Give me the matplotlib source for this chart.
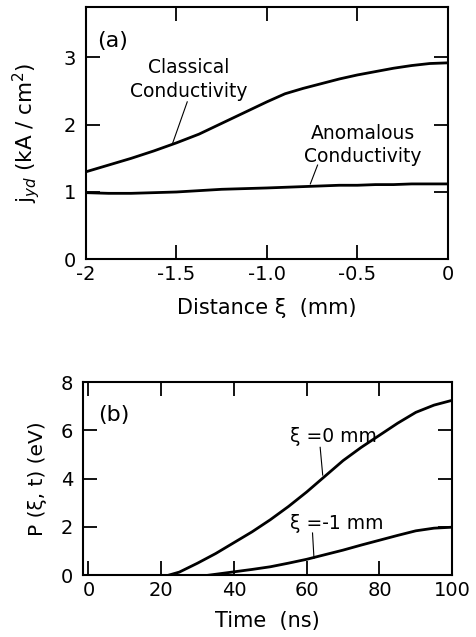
import numpy as np
import matplotlib
matplotlib.use("Agg")
import matplotlib.pyplot as plt

# (a) current density vs distance
xi = [-2.0, -1.875, -1.75, -1.625, -1.5, -1.375, -1.25, -1.125, -1.0,
      -0.9, -0.8, -0.7, -0.6, -0.5, -0.4, -0.3, -0.2, -0.1, 0.0]
j_classical = [1.30, 1.40, 1.50, 1.61, 1.73, 1.86, 2.02, 2.18, 2.34,
               2.46, 2.54, 2.61, 2.68, 2.74, 2.79, 2.84, 2.88, 2.91, 2.92]
j_anomalous = [0.99, 0.98, 0.98, 0.99, 1.00, 1.02, 1.04, 1.05, 1.06,
               1.07, 1.08, 1.09, 1.10, 1.10, 1.11, 1.11, 1.12, 1.12, 1.12]

# (b) pressure vs time
t0 = [22, 25, 30, 35, 40, 45, 50, 55, 60, 65, 70, 75, 80, 85, 90, 95, 100]
p0 = [0.0, 0.13, 0.5, 0.9, 1.35, 1.8, 2.3, 2.85, 3.45, 4.1, 4.75,
      5.3, 5.8, 6.3, 6.75, 7.05, 7.25]
t1 = [33, 40, 45, 50, 55, 60, 65, 70, 75, 80, 85, 90, 95, 100]
p1 = [0.0, 0.14, 0.24, 0.35, 0.50, 0.66, 0.85, 1.04, 1.25, 1.45, 1.65,
      1.84, 1.95, 1.99]

plt.rcParams['font.family'] = ['DejaVu Sans']

fig = plt.figure(figsize=(4.77, 6.37), dpi=100)
ax1 = fig.add_axes([0.180, 0.593, 0.759, 0.396])
ax2 = fig.add_axes([0.174, 0.097, 0.774, 0.303])

for ax in (ax1, ax2):
    for s in ax.spines.values():
        s.set_linewidth(1.5)
    ax.tick_params(direction='in', length=10, width=1.3, top=True, right=True,
                   labelsize=14, pad=4)
    ax.tick_params(axis='y', pad=7)

# panel (a)
ax1.plot(xi, j_classical, color='black', lw=2)
ax1.plot(xi, j_anomalous, color='black', lw=2)
ax1.set_xlim(-2, 0)
ax1.set_ylim(0, 3.75)
ax1.set_xticks([-2, -1.5, -1.0, -0.5, 0])
ax1.set_xticklabels(['-2', '-1.5', '-1.0', '-0.5', '0'])
ax1.set_yticks([0, 1, 2, 3])
ax1.set_xlabel('Distance ξ  (mm)', fontsize=15, labelpad=10)
ax1.set_ylabel('j$_{yd}$ (kA / cm$^2$)', fontsize=15.5, labelpad=16)
ax1.text(0.03, 0.84, '(a)', transform=ax1.transAxes, fontsize=16)
ax1.text(-1.43, 2.67, 'Classical\nConductivity', fontsize=13.5,
         ha='center', va='center', linespacing=1.3)
ax1.plot([-1.44, -1.52], [2.34, 1.73], color='black', lw=0.8)
ax1.text(-0.47, 1.70, 'Anomalous\nConductivity', fontsize=13.5,
         ha='center', va='center', linespacing=1.3)
ax1.plot([-0.72, -0.76], [1.40, 1.12], color='black', lw=0.8)

# panel (b)
ax2.plot(t0, p0, color='black', lw=2)
ax2.plot(t1, p1, color='black', lw=2)
ax2.set_xlim(-1.5, 100)
ax2.set_ylim(0, 8)
ax2.set_xticks([0, 20, 40, 60, 80, 100])
ax2.set_yticks([0, 2, 4, 6, 8])
ax2.set_xlabel('Time  (ns)', fontsize=15, labelpad=8)
ax2.set_ylabel('P (ξ, t) (eV)', fontsize=14.5, labelpad=10)
ax2.text(0.04, 0.80, '(b)', transform=ax2.transAxes, fontsize=16)
ax2.text(55.5, 5.75, 'ξ =0 mm', fontsize=13.5, ha='left', va='center')
ax2.plot([63.7, 64.4], [5.3, 4.15], color='black', lw=0.8)
ax2.text(55.5, 2.15, 'ξ =-1 mm', fontsize=13.5, ha='left', va='center')
ax2.plot([61.6, 62.0], [1.75, 0.7], color='black', lw=0.8)

fig.savefig('out.png', dpi=100)
